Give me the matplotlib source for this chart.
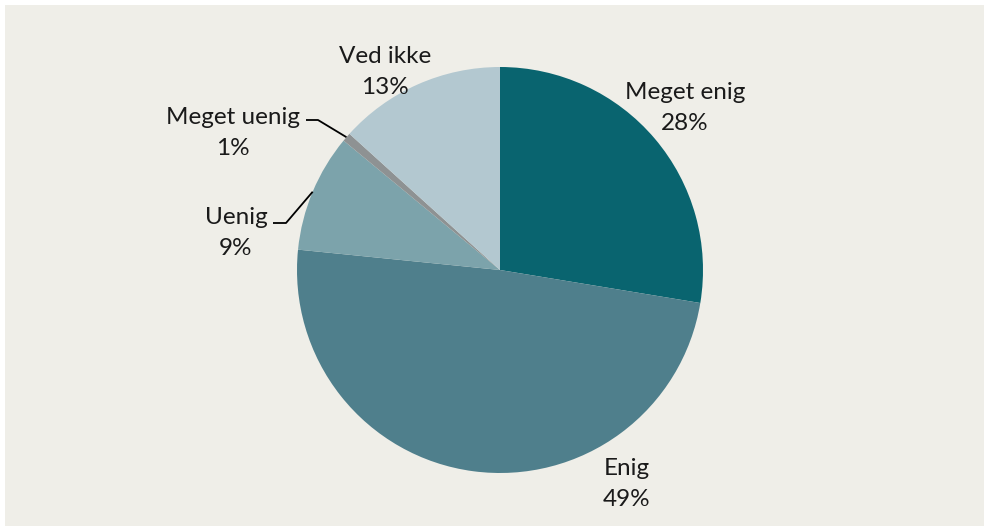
import numpy as np
import matplotlib
matplotlib.use("Agg")
import matplotlib.pyplot as plt
from matplotlib.patches import Rectangle

# answers, clockwise from 12 o'clock
categories = ["Meget enig", "Enig", "Uenig", "Meget uenig", "Ved ikke"]
shares = [27.6, 49.0, 9.4, 0.7, 13.3]
colors = ["#09646f", "#4f7f8c", "#7ca3ab", "#8e9293", "#b3c8d0"]

# label centres in pixel coords (x, y from top)
label_pos = [(685, 108), (627, 484), (236, 233), (233, 133), (385, 72)]
# which labels get a leader line, and the elbow of it
leaders = {2: [(273, 223), (286, 223)], 3: [(306, 120), (318, 120)]}

W, H = 984, 526
cx, cy, R = 500, 256, 203   # pie centre (y up) and radius in px

plt.rcParams['font.family'] = ['Lato', 'DejaVu Sans']

fig = plt.figure(figsize=(W / 100, H / 100), dpi=100)
fig.patch.set_facecolor("white")

ax = fig.add_axes([0, 0, 1, 1])
ax.add_patch(Rectangle((5, 0), W - 5, H - 5, facecolor="#efeee8",
                       edgecolor="none", zorder=-5))

wedges, _ = ax.pie(shares, colors=colors, startangle=90, counterclock=False,
                   center=(cx, cy), radius=R, frame=True,
                   wedgeprops=dict(linewidth=0))
ax.set_xlim(0, W)
ax.set_ylim(0, H)
ax.set_aspect("equal")
ax.axis("off")

for i, (name, val) in enumerate(zip(categories, shares)):
    x, y = label_pos[i]
    ax.text(x, H - y, f"{name}\n{round(val):.0f}%", ha="center", va="center",
            fontsize=17.5, color="#1a1a1a", linespacing=1.6)
    if i in leaders:
        w = wedges[i]
        mid = np.deg2rad((w.theta1 + w.theta2) / 2)
        px, py = cx + R * np.cos(mid), cy + R * np.sin(mid)
        pts = leaders[i]
        xs = [p[0] for p in pts] + [px]
        ys = [H - p[1] for p in pts] + [py]
        ax.plot(xs, ys, color="black", linewidth=1.3, solid_capstyle="butt")

fig.savefig("out.png", dpi=100)
